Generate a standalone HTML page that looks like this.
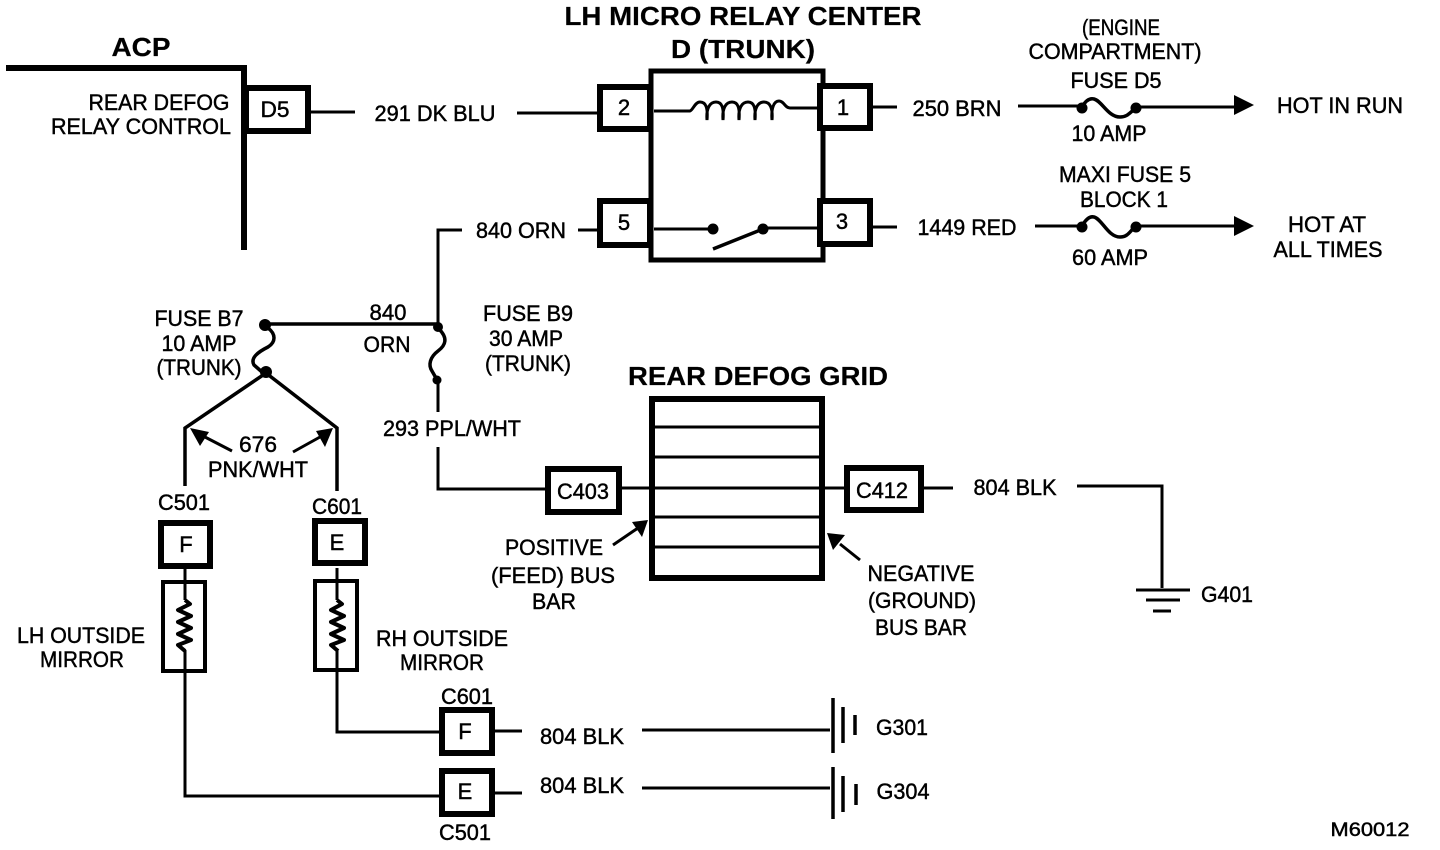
<!DOCTYPE html>
<html><head><meta charset="utf-8"><style>
html,body{margin:0;padding:0;background:#fff}
svg{display:block}
text{font-family:"Liberation Sans",sans-serif;font-size:22px;fill:#000;text-anchor:middle;stroke:#000;stroke-width:.45}
.b{font-weight:bold;font-size:26px;stroke-width:.2}
.l{fill:none;stroke:#000;stroke-width:3}
.k{fill:#fff;stroke:#000;stroke-width:6}
</style></head><body>
<svg width="1440" height="850" viewBox="0 0 1440 850" xmlns="http://www.w3.org/2000/svg">
<!-- ACP -->
<path d="M6 68H244V250" fill="none" stroke="#000" stroke-width="6"/>
<text x="141" y="56" class="b" textLength="59" lengthAdjust="spacingAndGlyphs">ACP</text>
<text x="159" y="110" textLength="141" lengthAdjust="spacingAndGlyphs">REAR DEFOG</text>
<text x="141" y="134" textLength="180" lengthAdjust="spacingAndGlyphs">RELAY CONTROL</text>
<path class="l" d="M308 112H355M517 113H600"/>
<rect x="246" y="88" width="62" height="43" class="k"/>
<text x="275" y="117" textLength="29" lengthAdjust="spacingAndGlyphs">D5</text>
<text x="435" y="121" textLength="121" lengthAdjust="spacingAndGlyphs">291 DK BLU</text>
<!-- Relay -->
<text x="743" y="25" class="b" textLength="357" lengthAdjust="spacingAndGlyphs">LH MICRO RELAY CENTER</text>
<text x="743" y="58" class="b" textLength="144" lengthAdjust="spacingAndGlyphs">D (TRUNK)</text>
<rect x="651" y="71" width="172" height="189" fill="#fff" stroke="#000" stroke-width="5"/>
<rect x="600" y="87" width="50" height="42" class="k"/>
<rect x="600" y="201" width="50" height="44" class="k"/>
<rect x="820" y="86" width="50" height="42" class="k"/>
<rect x="820" y="201" width="50" height="43" class="k"/>
<text x="624" y="115">2</text><text x="624" y="230">5</text><text x="843" y="115">1</text><text x="842" y="229">3</text>
<path class="l" d="M654 111H690C693 110 695 102 700 102C706 102 708 108 707 120C706 108 710 102 716 102C722 102 724 108 723 120C722 108 726 102 732 102C738 102 740 108 739 120C738 108 742 102 748 102C754 102 756 108 755 120C754 108 758 102 764 102C770 102 773 108 772 120C771 108 774 101 779 101C784 101 785 108 790 108H818"/>
<path class="l" d="M654 229H712M765 228H818"/>
<circle cx="713" cy="229" r="5.5"/><circle cx="763" cy="229" r="5.5"/>
<path d="M713 249L763 229" fill="none" stroke="#000" stroke-width="3.5"/>
<!-- Right top -->
<path class="l" d="M870 107H897"/>
<text x="957" y="116" textLength="89" lengthAdjust="spacingAndGlyphs">250 BRN</text>
<path class="l" d="M1018 106H1081M1136 107H1238"/>
<path d="M1082 107C1086 100 1090 98 1094 99C1102 101 1108 117 1120 117C1128 117 1130 112 1135 109" fill="none" stroke="#000" stroke-width="3.5"/>
<circle cx="1082" cy="108" r="5.5"/><circle cx="1136" cy="108" r="5.5"/>
<path d="M1234 95L1254 105L1234 115Z"/>
<text x="1121" y="35" textLength="78" lengthAdjust="spacingAndGlyphs">(ENGINE</text>
<text x="1115" y="59" textLength="173" lengthAdjust="spacingAndGlyphs">COMPARTMENT)</text>
<text x="1116" y="88" textLength="91" lengthAdjust="spacingAndGlyphs">FUSE D5</text>
<text x="1109" y="141" textLength="75" lengthAdjust="spacingAndGlyphs">10 AMP</text>
<text x="1340" y="113" textLength="126" lengthAdjust="spacingAndGlyphs">HOT IN RUN</text>
<path class="l" d="M870 227H897M1035 226H1081M1136 226H1238"/>
<text x="967" y="235" textLength="99" lengthAdjust="spacingAndGlyphs">1449 RED</text>
<path d="M1082 226C1086 219 1090 216 1094 217C1102 219 1108 237 1120 237C1128 237 1130 231 1135 227" fill="none" stroke="#000" stroke-width="3.5"/>
<circle cx="1082" cy="227" r="5.5"/><circle cx="1136" cy="227" r="5.5"/>
<path d="M1234 216L1254 226L1234 236Z"/>
<text x="1125" y="182" textLength="132" lengthAdjust="spacingAndGlyphs">MAXI FUSE 5</text>
<text x="1124" y="207" textLength="88" lengthAdjust="spacingAndGlyphs">BLOCK 1</text>
<text x="1110" y="265" textLength="76" lengthAdjust="spacingAndGlyphs">60 AMP</text>
<text x="1327" y="232" textLength="78" lengthAdjust="spacingAndGlyphs">HOT AT</text>
<text x="1328" y="257" textLength="109" lengthAdjust="spacingAndGlyphs">ALL TIMES</text>
<!-- 840 -->
<path class="l" d="M600 230H578"/>
<text x="521" y="238" textLength="90" lengthAdjust="spacingAndGlyphs">840 ORN</text>
<path class="l" d="M462 230H438V326"/>
<path d="M265 324H437" fill="none" stroke="#000" stroke-width="3.5"/>
<circle cx="265" cy="325" r="6"/><circle cx="438" cy="327" r="5"/><circle cx="266" cy="372" r="6"/><circle cx="437" cy="380" r="4.5"/>
<path d="M268 328C276 334 276 342 268 347C258 352 250 358 254 365L262 372" fill="none" stroke="#000" stroke-width="3.5"/>
<path d="M439 329C448 338 446 345 438 351C430 357 428 365 432 371L436 378" fill="none" stroke="#000" stroke-width="3.5"/>
<text x="388" y="320" textLength="37" lengthAdjust="spacingAndGlyphs">840</text>
<text x="387" y="352" textLength="47" lengthAdjust="spacingAndGlyphs">ORN</text>
<text x="199" y="326" textLength="89" lengthAdjust="spacingAndGlyphs">FUSE B7</text>
<text x="199" y="351" textLength="75" lengthAdjust="spacingAndGlyphs">10 AMP</text>
<text x="199" y="375" textLength="85" lengthAdjust="spacingAndGlyphs">(TRUNK)</text>
<text x="528" y="321" textLength="90" lengthAdjust="spacingAndGlyphs">FUSE B9</text>
<text x="526" y="346" textLength="74" lengthAdjust="spacingAndGlyphs">30 AMP</text>
<text x="528" y="371" textLength="86" lengthAdjust="spacingAndGlyphs">(TRUNK)</text>
<path class="l" d="M438 382V412"/>
<text x="452" y="436" textLength="138" lengthAdjust="spacingAndGlyphs">293 PPL/WHT</text>
<path class="l" d="M438 447V489H546"/>
<!-- Y split -->
<path d="M185 486V428L266 373L337 428V491" fill="none" stroke="#000" stroke-width="3.5"/>
<path d="M190 428L209 432L200 446Z M333 428L316 431L325 447Z"/>
<path class="l" d="M232 451L203 436M293 452L320 437"/>
<text x="258" y="452" textLength="38" lengthAdjust="spacingAndGlyphs">676</text>
<text x="258" y="477" textLength="100" lengthAdjust="spacingAndGlyphs">PNK/WHT</text>
<text x="184" y="510" textLength="52" lengthAdjust="spacingAndGlyphs">C501</text>
<text x="337" y="514" textLength="50" lengthAdjust="spacingAndGlyphs">C601</text>
<!-- Mirror connectors -->
<path class="l" d="M185 568V600M185 650V796H442"/>
<path class="l" d="M337 568V600M337 650V732H442"/>
<rect x="161" y="523" width="49" height="43" class="k"/>
<rect x="315" y="521" width="50" height="42" class="k"/>
<text x="186" y="552">F</text><text x="337" y="550">E</text>
<rect x="163" y="582" width="42" height="89" fill="none" stroke="#000" stroke-width="4"/>
<rect x="315" y="581" width="42" height="89" fill="none" stroke="#000" stroke-width="4"/>
<path d="M185 600L190 604L178 610L191 616L178 622L191 628L178 634L191 640L178 645L185 651" fill="none" stroke="#000" stroke-width="4" stroke-linejoin="round"/>
<path d="M337 600L342 604L331 610L344 616L331 622L344 628L331 634L344 640L331 645L338 651" fill="none" stroke="#000" stroke-width="4" stroke-linejoin="round"/>
<text x="81" y="643" textLength="128" lengthAdjust="spacingAndGlyphs">LH OUTSIDE</text>
<text x="82" y="667" textLength="84" lengthAdjust="spacingAndGlyphs">MIRROR</text>
<text x="442" y="646" textLength="132" lengthAdjust="spacingAndGlyphs">RH OUTSIDE</text>
<text x="442" y="670" textLength="84" lengthAdjust="spacingAndGlyphs">MIRROR</text>
<!-- Grid -->
<text x="758" y="385" class="b" textLength="260" lengthAdjust="spacingAndGlyphs">REAR DEFOG GRID</text>
<rect x="652" y="399" width="170" height="179" fill="#fff" stroke="#000" stroke-width="6"/>
<path class="l" d="M652 427H823M652 457H823M622 488H846M652 517H823M652 547H823"/>
<rect x="548" y="469" width="71" height="43" class="k"/>
<rect x="847" y="468" width="74" height="42" class="k"/>
<text x="583" y="499" textLength="52" lengthAdjust="spacingAndGlyphs">C403</text>
<text x="882" y="498" textLength="52" lengthAdjust="spacingAndGlyphs">C412</text>
<path class="l" d="M921 488H953"/>
<text x="1015" y="495" textLength="83" lengthAdjust="spacingAndGlyphs">804 BLK</text>
<path class="l" d="M1077 486H1162V588"/>
<path d="M1136 590H1190M1146 600H1180M1153 611H1171" fill="none" stroke="#000" stroke-width="3"/>
<text x="1227" y="602" textLength="52" lengthAdjust="spacingAndGlyphs">G401</text>
<path d="M648 520L632 522L642 537Z"/>
<path class="l" d="M613 545L638 528"/>
<path d="M827 533L845 535L833 550Z"/>
<path class="l" d="M840 544L860 560"/>
<text x="554" y="555" textLength="98" lengthAdjust="spacingAndGlyphs">POSITIVE</text>
<text x="553" y="583" textLength="124" lengthAdjust="spacingAndGlyphs">(FEED) BUS</text>
<text x="554" y="609" textLength="44" lengthAdjust="spacingAndGlyphs">BAR</text>
<text x="921" y="581" textLength="107" lengthAdjust="spacingAndGlyphs">NEGATIVE</text>
<text x="922" y="608" textLength="108" lengthAdjust="spacingAndGlyphs">(GROUND)</text>
<text x="921" y="635" textLength="92" lengthAdjust="spacingAndGlyphs">BUS BAR</text>
<!-- Bottom -->
<rect x="442" y="710" width="50" height="43" class="k"/>
<rect x="442" y="771" width="50" height="43" class="k"/>
<text x="465" y="739">F</text><text x="465" y="799">E</text>
<text x="467" y="704" textLength="52" lengthAdjust="spacingAndGlyphs">C601</text>
<text x="465" y="840" textLength="52" lengthAdjust="spacingAndGlyphs">C501</text>
<path class="l" d="M494 731H522M494 793H522"/>
<text x="582" y="744" textLength="84" lengthAdjust="spacingAndGlyphs">804 BLK</text>
<text x="582" y="793" textLength="84" lengthAdjust="spacingAndGlyphs">804 BLK</text>
<path class="l" d="M642 730H830M642 788H830"/>
<path d="M833 698V753M843 707V743M855 715V735M833 767V819M843 776V812M856 784V805" fill="none" stroke="#000" stroke-width="3.5"/>
<text x="902" y="735" textLength="52" lengthAdjust="spacingAndGlyphs">G301</text>
<text x="903" y="799" textLength="53" lengthAdjust="spacingAndGlyphs">G304</text>
<text x="1370" y="836" textLength="79" lengthAdjust="spacingAndGlyphs" style="font-size:19px">M60012</text>
</svg>
</body></html>
